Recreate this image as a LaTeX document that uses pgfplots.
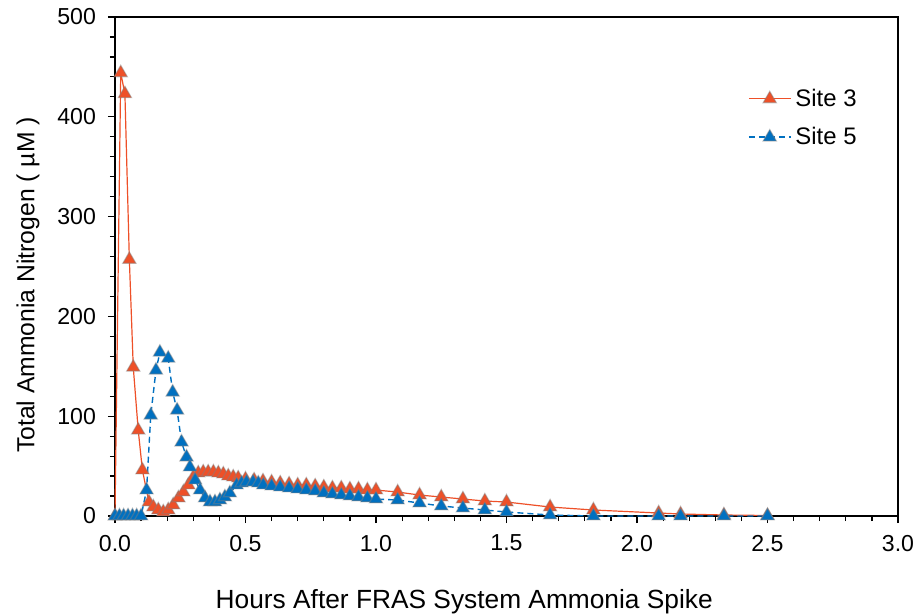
\documentclass[border=0pt]{standalone}
\usepackage{pgfplots}
\pgfplotsset{compat=1.18}
\usepackage{fontspec}
\setmainfont{Liberation Sans}
\definecolor{sitered}{RGB}{238,80,40}
\definecolor{siteblue}{RGB}{0,112,192}
\newcommand{\fftick}{\fontsize{11.6}{13.9}\selectfont}
\newcommand{\ffx}{\fontsize{13.2}{15.8}\selectfont}
\newcommand{\ffy}{\fontsize{12.4}{14.9}\selectfont}
\newcommand{\ffleg}{\fontsize{12}{14.4}\selectfont}
\begin{document}
\begin{tikzpicture}
\path[use as bounding box] (-57.5bp,-50bp) rectangle (399bp,258bp);
\begin{axis}[
  at={(0,0)}, anchor=south west,
  scale only axis, width=391.5bp, height=249.5bp,
  xmin=0, xmax=3, ymin=0, ymax=500,
  xtick={0,0.5,...,3}, minor x tick num=4,
  ytick={0,100,...,500}, minor y tick num=4,
  tick align=outside, xtick pos=lower, ytick pos=left,
  major tick length=3.5bp, minor tick length=2.5bp,
  every tick/.style={black, line width=0.6bp},
  axis line style={line width=0.75bp},
  clip=false,
  /pgf/number format/assume math mode=true,
  xticklabel style={font=\fftick, yshift=-2.5bp, /pgf/number format/.cd, fixed, fixed zerofill, precision=1},
  yticklabel style={font=\fftick, xshift=-2.5bp},
  xlabel={Hours After FRAS System Ammonia Spike},
  ylabel={Total Ammonia Nitrogen ( µM )},
  xlabel style={font=\ffx, at={([yshift=-43bp]axis description cs:0.446,0)}, anchor=center},
  ylabel style={font=\ffy, at={([xshift=-43.5bp]axis description cs:0,0.463)}, anchor=center},
  legend style={font=\ffleg, draw=none, fill=none, at={(axis description cs:0.808,0.865)}, anchor=north west, row sep=5bp, inner sep=0pt},
  legend cell align=left,
  legend image code/.code={\draw[mark repeat=2,mark phase=2] plot coordinates {(0bp,0bp) (10.5bp,0bp) (21bp,0bp)};},
]
\addplot[sitered, line width=0.6bp, mark=triangle*, mark size=3.8bp,
  mark options={solid, fill=sitered, draw=gray, draw opacity=0.45, line width=0.6bp}]
coordinates {
(0,0) (0.022,444) (0.038,423) (0.055,257) (0.070,149) (0.089,86) (0.105,46)
(0.130,14) (0.147,9) (0.166,6) (0.185,4) (0.204,6) (0.223,11) (0.243,18)
(0.262,24) (0.281,31) (0.300,39) (0.319,43) (0.338,44) (0.357,44) (0.377,44)
(0.396,43) (0.415,42) (0.434,40) (0.453,39) (0.472,38)
(0.500,37) (0.533,36) (0.567,35) (0.600,34) (0.633,33) (0.667,32) (0.700,31)
(0.733,31) (0.767,30) (0.800,29) (0.833,28) (0.867,28) (0.900,27) (0.933,27)
(0.967,26) (1.000,26)
(1.083,24) (1.167,21) (1.250,19) (1.333,17) (1.417,15) (1.500,14)
(1.667,9) (1.833,6) (2.083,3) (2.167,2) (2.333,1) (2.500,0.5)
};
\addlegendentry{Site 3}
\addplot[siteblue, line width=0.7bp, dash pattern=on 3bp off 2bp, mark=triangle*, mark size=3.8bp,
  mark options={solid, fill=siteblue, draw=gray, draw opacity=0.45, line width=0.6bp}]
coordinates {
(0,0) (0.017,0) (0.033,0) (0.050,0) (0.067,0) (0.083,0) (0.100,0)
(0.121,26) (0.137,101) (0.157,146) (0.172,164) (0.204,158) (0.221,124)
(0.238,106) (0.255,74) (0.274,59) (0.287,49) (0.307,36) (0.326,26)
(0.345,18) (0.364,14) (0.383,14) (0.402,16) (0.421,19) (0.440,23)
(0.466,31) (0.485,33) (0.504,34) (0.529,34) (0.549,33) (0.568,31)
(0.600,30) (0.633,29) (0.667,28) (0.700,27) (0.733,26) (0.767,25)
(0.800,23) (0.833,22) (0.867,21) (0.900,20) (0.933,19) (0.967,18) (1.000,17)
(1.083,16) (1.167,13) (1.250,10) (1.333,8) (1.417,6) (1.500,4)
(1.667,1) (1.833,0) (2.083,0) (2.167,0) (2.333,0) (2.500,0)
};
\addlegendentry{Site 5}
\end{axis}
\end{tikzpicture}
\end{document}
